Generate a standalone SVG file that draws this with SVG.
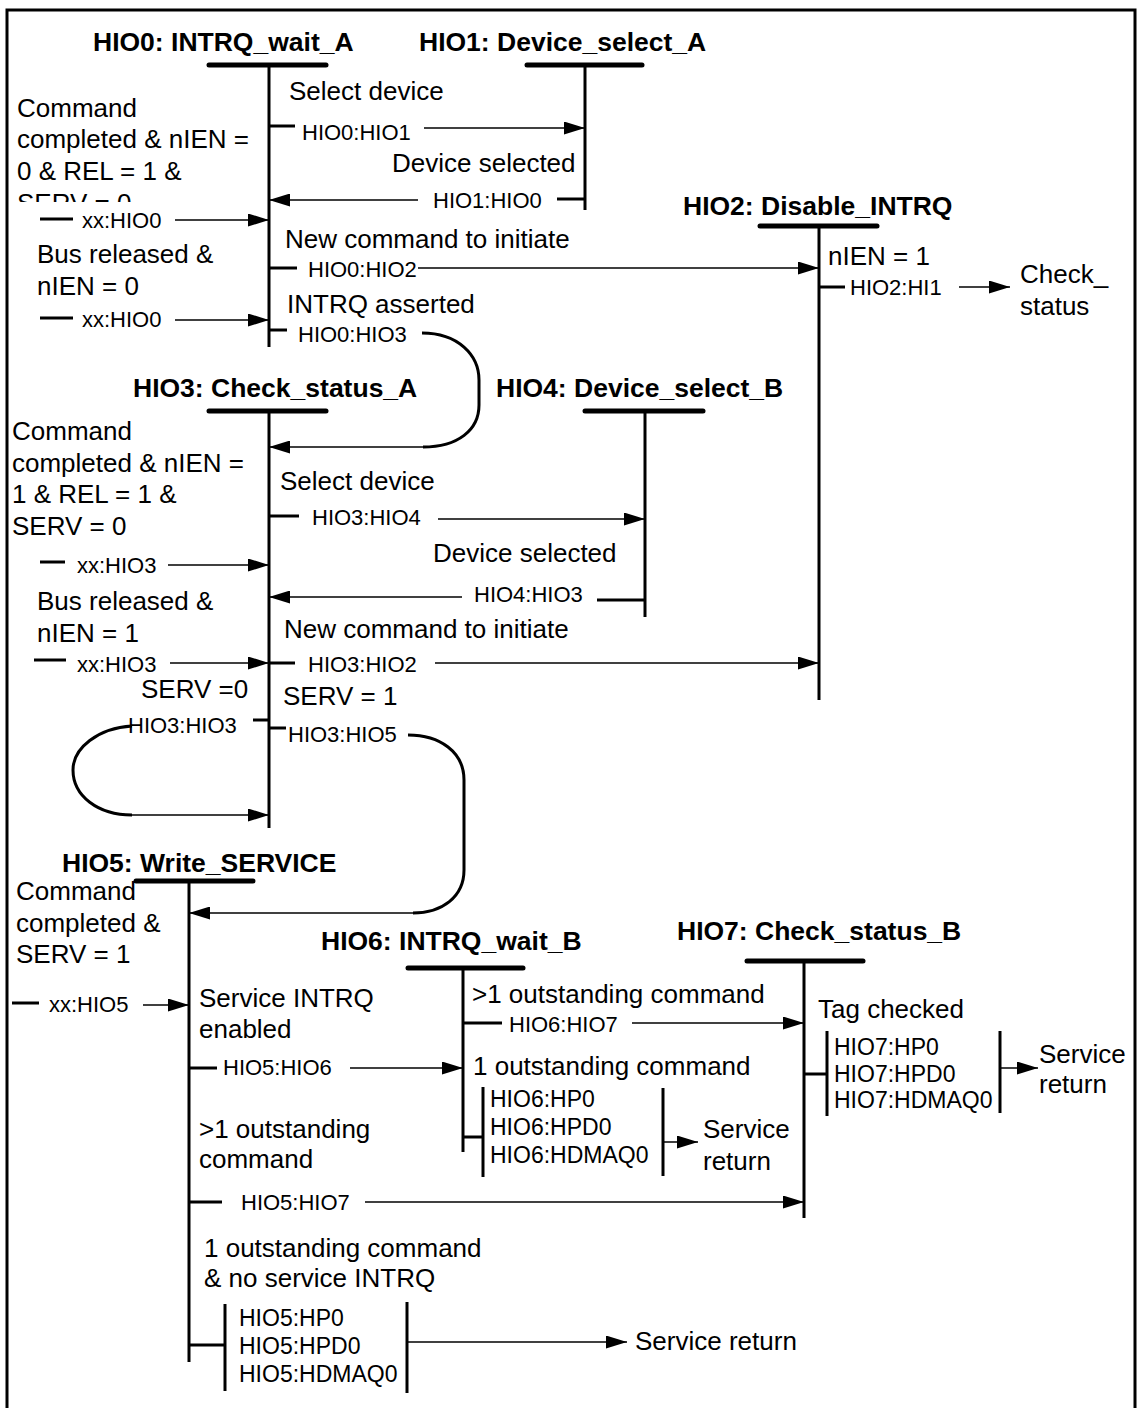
<svg xmlns="http://www.w3.org/2000/svg" width="1138" height="1408" viewBox="0 0 1138 1408">
<style>
text{font-family:"Liberation Sans",Arial,sans-serif;font-size:26px;fill:#000}
.b{font-weight:bold;font-size:26.5px}
.s{font-size:22px}
.bx{font-size:23px}
.bar{stroke:#000;stroke-width:5;stroke-linecap:round}
.v{stroke:#000;stroke-width:3}
.stub{stroke:#000;stroke-width:3}
.ar{stroke:#000;stroke-width:1.6;fill:none;marker-end:url(#ah)}
.cv{stroke:#000;stroke-width:3;fill:none}
</style>
<defs>
<marker id="ah" markerUnits="userSpaceOnUse" markerWidth="21" markerHeight="13" refX="21" refY="6.5" orient="auto">
<path d="M0,0 L21,6.5 L0,13 z" fill="#000"/>
</marker>
<clipPath id="clip0"><rect x="0" y="80" width="265" height="122"/></clipPath>
</defs>
<rect x="7" y="10" width="1128" height="1410" fill="#fff" stroke="#000" stroke-width="3"/>

<g id="HIO0">
<text class="b" x="93" y="51">HIO0: INTRQ_wait_A</text>
<line class="bar" x1="209" y1="65" x2="326" y2="65"/>
<line class="v" x1="269" y1="65" x2="269" y2="347"/>
</g>
<g id="HIO1">
<text class="b" x="419" y="51">HIO1: Device_select_A</text>
<line class="bar" x1="527" y1="65" x2="642" y2="65"/>
<line class="v" x1="585" y1="65" x2="585" y2="210"/>
</g>
<g id="HIO2">
<text class="b" x="683" y="215">HIO2: Disable_INTRQ</text>
<line class="bar" x1="760" y1="226" x2="877" y2="226"/>
<line class="v" x1="819" y1="226" x2="819" y2="700"/>
</g>
<g id="HIO3">
<text class="b" x="133" y="397">HIO3: Check_status_A</text>
<line class="bar" x1="209" y1="411" x2="326" y2="411"/>
<line class="v" x1="269" y1="411" x2="269" y2="828"/>
</g>
<g id="HIO4">
<text class="b" x="496" y="397">HIO4: Device_select_B</text>
<line class="bar" x1="585" y1="411" x2="703" y2="411"/>
<line class="v" x1="645" y1="411" x2="645" y2="617"/>
</g>
<g id="HIO5">
<text class="b" x="62" y="872">HIO5: Write_SERVICE</text>
<line class="bar" x1="136" y1="881" x2="253" y2="881"/>
<line class="v" x1="189" y1="881" x2="189" y2="1362"/>
</g>
<g id="HIO6">
<text class="b" x="321" y="950">HIO6: INTRQ_wait_B</text>
<line class="bar" x1="408" y1="968" x2="523" y2="968"/>
<line class="v" x1="463" y1="968" x2="463" y2="1152"/>
</g>
<g id="HIO7">
<text class="b" x="677" y="940">HIO7: Check_status_B</text>
<line class="bar" x1="747" y1="961" x2="863" y2="961"/>
<line class="v" x1="804" y1="961" x2="804" y2="1218"/>
</g>

<g id="connectors">
<!-- HIO0 -> HIO1 -->
<text x="289" y="100">Select device</text>
<line class="stub" x1="269" y1="126" x2="295" y2="126"/>
<text class="s" x="302" y="140">HIO0:HIO1</text>
<line class="ar" x1="424" y1="128" x2="585" y2="128"/>
<!-- HIO1 -> HIO0 -->
<text x="392" y="172">Device selected</text>
<text class="s" x="433" y="208">HIO1:HIO0</text>
<line class="stub" x1="557" y1="199" x2="585" y2="199"/>
<line class="ar" x1="418" y1="200" x2="269" y2="200"/>
<!-- xx -> HIO0 -->
<g clip-path="url(#clip0)">
<text x="17" y="117">Command</text>
<text x="17" y="148">completed &amp; nIEN =</text>
<text x="17" y="180">0 &amp; REL = 1 &amp;</text>
<text x="17" y="212">SERV = 0</text>
</g>
<line class="stub" x1="40" y1="219" x2="73" y2="219"/>
<text class="s" x="82" y="228">xx:HIO0</text>
<line class="ar" x1="175" y1="220" x2="269" y2="220"/>
<text x="37" y="263">Bus released &amp;</text>
<text x="37" y="295">nIEN = 0</text>
<line class="stub" x1="40" y1="318" x2="73" y2="318"/>
<text class="s" x="82" y="327">xx:HIO0</text>
<line class="ar" x1="175" y1="320" x2="269" y2="320"/>
<!-- HIO0 -> HIO2 -->
<text x="285" y="248">New command to initiate</text>
<line class="stub" x1="269" y1="268" x2="297" y2="268"/>
<text class="s" x="308" y="277">HIO0:HIO2</text>
<line class="ar" x1="418" y1="268" x2="819" y2="268"/>
<!-- HIO0 -> HIO3 -->
<text x="287" y="313">INTRQ asserted</text>
<line class="stub" x1="269" y1="330" x2="287" y2="330"/>
<text class="s" x="298" y="342">HIO0:HIO3</text>
<path class="cv" d="M422,333 C458,333 479,355 479,380 L479,405 C479,430 458,447 423,447"/>
<line class="ar" x1="423" y1="447" x2="269" y2="447"/>
<!-- HIO2 -> HI1 -->
<text x="828" y="265">nIEN = 1</text>
<line class="stub" x1="819" y1="287" x2="845" y2="287"/>
<text class="s" x="850" y="295">HIO2:HI1</text>
<line class="ar" x1="959" y1="287" x2="1010" y2="287"/>
<text x="1020" y="283">Check_</text>
<text x="1020" y="315">status</text>
<!-- xx -> HIO3 -->
<text x="12" y="440">Command</text>
<text x="12" y="472">completed &amp; nIEN =</text>
<text x="12" y="503">1 &amp; REL = 1 &amp;</text>
<text x="12" y="535">SERV = 0</text>
<line class="stub" x1="40" y1="562" x2="65" y2="562"/>
<text class="s" x="77" y="573">xx:HIO3</text>
<line class="ar" x1="168" y1="565" x2="269" y2="565"/>
<text x="37" y="610">Bus released &amp;</text>
<text x="37" y="642">nIEN = 1</text>
<line class="stub" x1="34" y1="660" x2="66" y2="660"/>
<text class="s" x="77" y="672">xx:HIO3</text>
<line class="ar" x1="170" y1="663" x2="269" y2="663"/>
<!-- HIO3 -> HIO4 -->
<text x="280" y="490">Select device</text>
<line class="stub" x1="269" y1="516" x2="299" y2="516"/>
<text class="s" x="312" y="525">HIO3:HIO4</text>
<line class="ar" x1="438" y1="519" x2="645" y2="519"/>
<!-- HIO4 -> HIO3 -->
<text x="433" y="562">Device selected</text>
<text class="s" x="474" y="602">HIO4:HIO3</text>
<line class="stub" x1="597" y1="600" x2="645" y2="600"/>
<line class="ar" x1="462" y1="597" x2="269" y2="597"/>
<!-- HIO3 -> HIO2 -->
<text x="284" y="638">New command to initiate</text>
<line class="stub" x1="269" y1="663" x2="295" y2="663"/>
<text class="s" x="308" y="672">HIO3:HIO2</text>
<line class="ar" x1="435" y1="663" x2="819" y2="663"/>
<!-- HIO3 -> HIO3 -->
<text x="141" y="698">SERV =0</text>
<line class="stub" x1="253" y1="720" x2="268" y2="720"/>
<text class="s" x="128" y="733">HIO3:HIO3</text>
<path class="cv" d="M132,726 C98,728 73,748 73,770 C73,796 98,815 132,815"/>
<line class="ar" x1="132" y1="815" x2="269" y2="815"/>
<!-- HIO3 -> HIO5 -->
<text x="283" y="705">SERV = 1</text>
<line class="stub" x1="269" y1="728" x2="286" y2="728"/>
<text class="s" x="288" y="742">HIO3:HIO5</text>
<path class="cv" d="M408,735 C440,735 464,752 464,780 L464,870 C464,897 442,913 413,913"/>
<line class="ar" x1="413" y1="913" x2="189" y2="913"/>
<!-- xx -> HIO5 -->
<text x="16" y="900">Command</text>
<text x="16" y="932">completed &amp;</text>
<text x="16" y="963">SERV = 1</text>
<line class="stub" x1="12" y1="1003" x2="39" y2="1003"/>
<text class="s" x="49" y="1012">xx:HIO5</text>
<line class="ar" x1="143" y1="1005" x2="189" y2="1005"/>
<!-- HIO5 -> HIO6 -->
<text x="199" y="1007">Service INTRQ</text>
<text x="199" y="1038">enabled</text>
<line class="stub" x1="189" y1="1068" x2="217" y2="1068"/>
<text class="s" x="223" y="1075">HIO5:HIO6</text>
<line class="ar" x1="350" y1="1068" x2="463" y2="1068"/>
<!-- HIO6 -> HIO7 -->
<text x="472" y="1003">&gt;1 outstanding command</text>
<line class="stub" x1="463" y1="1023" x2="502" y2="1023"/>
<text class="s" x="509" y="1032">HIO6:HIO7</text>
<line class="ar" x1="632" y1="1023" x2="804" y2="1023"/>
<!-- HIO6 -> service return -->
<text x="473" y="1075">1 outstanding command</text>
<line class="v" x1="483" y1="1087" x2="483" y2="1177"/>
<line class="stub" x1="463" y1="1137" x2="483" y2="1137"/>
<text class="bx" x="490" y="1107">HIO6:HP0</text>
<text class="bx" x="490" y="1135">HIO6:HPD0</text>
<text class="bx" x="490" y="1163">HIO6:HDMAQ0</text>
<line class="v" x1="663" y1="1088" x2="663" y2="1176"/>
<line class="ar" x1="663" y1="1142" x2="698" y2="1142"/>
<text x="703" y="1138">Service</text>
<text x="703" y="1170">return</text>
<!-- HIO5 -> HIO7 -->
<text x="199" y="1138">&gt;1 outstanding</text>
<text x="199" y="1168">command</text>
<line class="stub" x1="189" y1="1202" x2="222" y2="1202"/>
<text class="s" x="241" y="1210">HIO5:HIO7</text>
<line class="ar" x1="365" y1="1202" x2="804" y2="1202"/>
<!-- HIO5 -> service return -->
<text x="204" y="1257">1 outstanding command</text>
<text x="204" y="1287">&amp; no service INTRQ</text>
<line class="v" x1="225" y1="1304" x2="225" y2="1391"/>
<line class="stub" x1="189" y1="1345" x2="225" y2="1345"/>
<text class="bx" x="239" y="1326">HIO5:HP0</text>
<text class="bx" x="239" y="1354">HIO5:HPD0</text>
<text class="bx" x="239" y="1382">HIO5:HDMAQ0</text>
<line class="v" x1="407" y1="1302" x2="407" y2="1393"/>
<line class="ar" x1="407" y1="1342" x2="627" y2="1342"/>
<text x="635" y="1350">Service return</text>
<!-- HIO7 -> service return -->
<text x="818" y="1018">Tag checked</text>
<line class="v" x1="827" y1="1031" x2="827" y2="1116"/>
<line class="stub" x1="804" y1="1074" x2="827" y2="1074"/>
<text class="bx" x="834" y="1055">HIO7:HP0</text>
<text class="bx" x="834" y="1082">HIO7:HPD0</text>
<text class="bx" x="834" y="1108">HIO7:HDMAQ0</text>
<line class="v" x1="1000" y1="1031" x2="1000" y2="1113"/>
<line class="ar" x1="1000" y1="1068" x2="1038" y2="1068"/>
<text x="1039" y="1063">Service</text>
<text x="1039" y="1093">return</text>
</g>
</svg>
